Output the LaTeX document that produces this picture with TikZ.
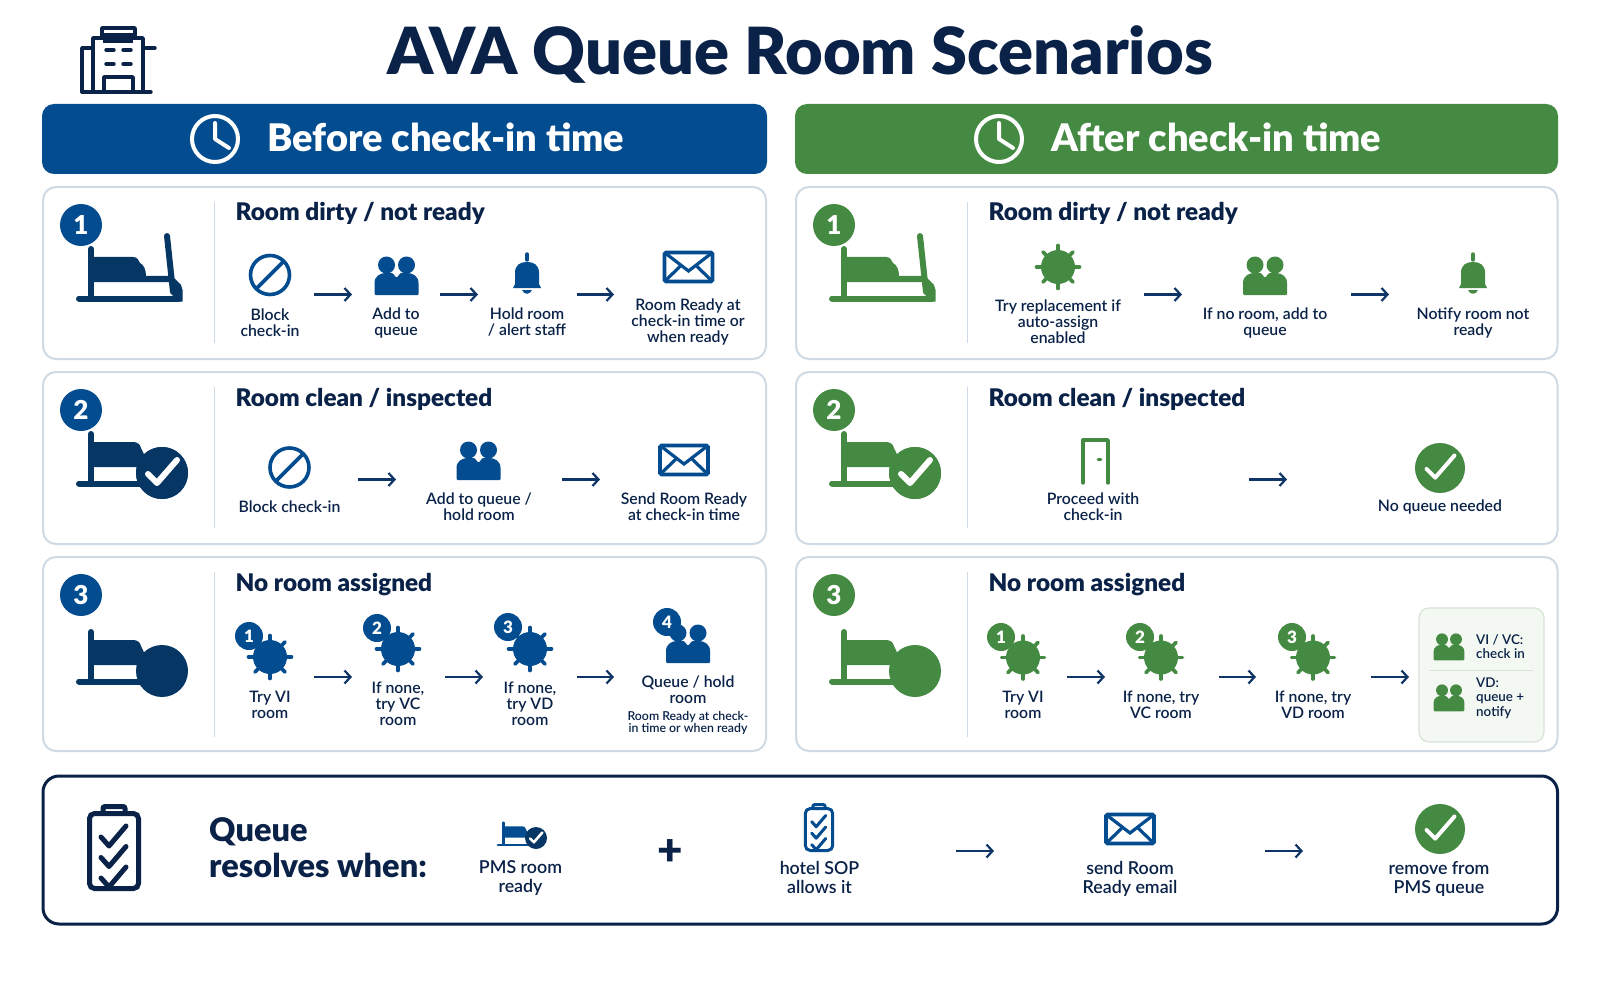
\documentclass[tikz,border=0pt]{standalone}
\usepackage{fontspec}
\usepackage{xcolor}
\usepackage{tikz}
\usetikzlibrary{arrows.meta}
\setmainfont{Lato}[UprightFont=* Semibold, BoldFont=* Black]

\definecolor{navyink}{HTML}{0A2248}
\definecolor{arrowink}{HTML}{0F3566}
\definecolor{headblue}{HTML}{034C90}
\definecolor{bedblue}{HTML}{063764}
\definecolor{headgreen}{HTML}{458A42}
\definecolor{panelline}{HTML}{CFDAE4}
\definecolor{softgreen}{HTML}{F4F8F2}
\definecolor{softline}{HTML}{D6E3D5}

\tikzset{
	panel/.style={draw=panelline, line width=2pt, fill=white, rounded corners=13pt},
	divider/.style={draw=panelline, line width=1.2pt},
	flow/.style={draw=arrowink, line width=2.4pt, -{Straight Barb[length=6pt,width=13pt,line width=2.2pt]}},
	headtext/.style={anchor=base west, inner sep=0pt, text=white, font=\fontsize{38}{38}\selectfont\bfseries},
	rowtitle/.style={anchor=base west, inner sep=0pt, text=navyink, font=\fontsize{24.3}{24.3}\selectfont\bfseries},
	steplabel/.style={align=center, inner sep=0pt, text=navyink, font=\fontsize{15.8}{16}\selectfont},
	biglabel/.style={steplabel, font=\fontsize{17.8}{19}\selectfont},
	boxlabel/.style={steplabel, anchor=west, align=left, font=\fontsize{13.4}{14.5}\selectfont},
	bigbadge/.style={circle, fill=#1, text=white, minimum size=42pt, inner sep=0pt, font=\fontsize{26}{26}\selectfont\bfseries},
	tinybadge/.style={circle, fill=#1, text=white, minimum size=28pt, inner sep=0pt, font=\fontsize{17}{17}\selectfont\bfseries}
}

% bed with its foot board, drawn where the first row has it
\newcommand{\bedfull}[3]{
	\begin{scope}[shift={(#1,#2)}]
		\draw[#3, line width=6pt, line cap=round] (91,249) -- (91,298);
		\draw[#3, line width=6pt, line cap=round] (79,298.5) -- (179,298.5);
		\fill[#3] (93,257) -- (133,257) .. controls (137,257) and (139,260) .. (140,263) .. controls (144,265) and (146,270) .. (146,276) -- (172,276) -- (172,282) -- (93,282) -- cycle;
		\draw[#3, line width=6pt, line cap=round] (167,236) -- (173,292);
		\fill[#3] (174,278) -- (181,285) -- (182.5,290) -- (182.5,301.5) -- (172,301.5) -- cycle;
	\end{scope}
}
% bed cut off by a disc
\newcommand{\bedshort}[3]{
	\begin{scope}[shift={(#1,#2)}]
		\draw[#3, line width=6pt, line cap=round] (91,249) -- (91,298);
		\draw[#3, line width=6pt, line cap=round] (79,298.5) -- (150,298.5);
		\fill[#3] (93,257) -- (133,257) .. controls (137,257) and (140,259) .. (141,263) -- (150,282) -- (93,282) -- cycle;
		\fill[#3] (162,288) circle (26);
	\end{scope}
}
% tick on a disc: x, y, radius, colour, line width
\newcommand{\tickdisc}[5]{
	\fill[#4] (#1,#2) circle (#3);
	\begin{scope}[shift={(#1,#2)}, scale=#3/26]
		\draw[white, line width=#5pt, line cap=round, line join=round] (-14,1) -- (-5,10) -- (15,-13);
	\end{scope}
}
\newcommand{\blockicon}[3]{
	\begin{scope}[shift={(#1,#2)}]
		\draw[#3, line width=3.6pt] (0,0) circle (19.5);
		\draw[#3, line width=3.6pt] (-14,14) -- (14,-14);
	\end{scope}
}
\newcommand{\peopleicon}[4]{
	\begin{scope}[shift={(#1,#2)}, scale=#4]
		\fill[#3] (-10,-11) circle (8.5);
		\fill[#3] (10,-11) circle (8.5);
		\fill[#3, rounded corners=1pt] (-22,19) -- (-22,8) .. controls (-22,0) and (-16,-3) .. (-10,-3) -- (-4,-3) -- (0,2) -- (4,-3) -- (10,-3) .. controls (16,-3) and (22,0) .. (22,8) -- (22,19) -- cycle;
	\end{scope}
}
\newcommand{\bellicon}[3]{
	\begin{scope}[shift={(#1,#2)}]
		\draw[#3, line width=3.4pt, line cap=round] (0,-20) -- (0,-14);
		\fill[#3] (-14,14) -- (-12,10) -- (-12,-1) .. controls (-12,-9) and (-7,-12) .. (0,-12) .. controls (7,-12) and (12,-9) .. (12,-1) -- (12,10) -- (14,14) -- cycle;
		\fill[#3] (-5,16) .. controls (-3,21) and (3,21) .. (5,16) -- cycle;
	\end{scope}
}
\newcommand{\mailicon}[3]{
	\begin{scope}[shift={(#1,#2)}]
		\draw[#3, line width=3.6pt, rounded corners=1.5pt] (-24,-14.5) rectangle (24,14.5);
		\draw[#3, line width=3.2pt] (-24,-14.5) -- (0,4) -- (24,-14.5);
		\draw[#3, line width=3.2pt] (-24,14.5) -- (-7,-2);
		\draw[#3, line width=3.2pt] (24,14.5) -- (7,-2);
	\end{scope}
}
\newcommand{\gearicon}[3]{
	\begin{scope}[shift={(#1,#2)}]
		\foreach \a in {0,45,...,315}
			\draw[#3, line width=3.6pt, line cap=round] (\a:14) -- (\a:21.5);
		\fill[#3] (0,0) circle (17);
	\end{scope}
}
\newcommand{\clockicon}[2]{
	\begin{scope}[shift={(#1,#2)}]
		\draw[white, line width=4pt] (0,0) circle (23);
		\draw[white, line width=4pt, line cap=round, line join=round] (0,-16) -- (0,0) -- (14,9);
	\end{scope}
}
% clipboard: x, y, scale, colour, line width
\newcommand{\clipicon}[5]{
	\begin{scope}[shift={(#1,#2)}, scale=#3]
		\draw[#4, line width=#5pt, rounded corners=5pt] (-24.5,-37.5) rectangle (24.5,37.5);
		\draw[#4, line width=#5pt, rounded corners=2pt] (-11,-37.5) -- (-11,-44.5) -- (11,-44.5) -- (11,-37.5);
		\foreach \d in {0,20.5,41}
			\draw[#4, line width=#5pt, line cap=round, line join=round] (-13,-14+\d) -- (-5,-5+\d) -- (12,-25+\d);
	\end{scope}
}
% arrow between two named ends
\newcommand{\flowarrow}[4]{
	\coordinate (#1s) at (#2,#4);
	\coordinate (#1e) at (#3,#4);
	\draw[flow] (#1s) -- (#1e);
}

\begin{document}
\begin{tikzpicture}[x=1pt, y=-1pt]
	\useasboundingbox (0,0) rectangle (1600,1000);
	\fill[white] (0,0) rectangle (1600,1000);

	% hotel icon
	\begin{scope}[navyink, line width=3.4pt, line cap=round, line join=round]
		\draw (93,92) -- (93,38) -- (143,38) -- (143,92);
		\draw (93,48) -- (82,48) -- (82,92);
		\draw (82,92) -- (151,92);
		\draw (143,48) -- (155,48);
		\draw (102,37) -- (102,28) -- (135,28) -- (135,37);
		\draw (104,92) -- (104,77) -- (133,77) -- (133,92);
		\fill (103,33.5) rectangle (133,43);
		\draw (106,50) -- (114,50);
		\draw (123,50) -- (131,50);
		\draw (106,64) -- (114,64);
		\draw (123,64) -- (131,64);
	\end{scope}
	\node[inner sep=0pt, text=navyink, font=\fontsize{65}{65}\selectfont\bfseries] (maintitle) at (800,55) {AVA Queue Room Scenarios};

	% column heads
	\fill[headblue, rounded corners=12pt] (42,104) rectangle (767,174);
	\fill[headgreen, rounded corners=12pt] (795,104) rectangle (1558,174);
	\clockicon{215}{139}
	\clockicon{999}{139}
	\node[headtext] (headbefore) at (267,152) {Before check-in time};
	\node[headtext] (headafter) at (1051,152) {After check-in time};

	% panels
	\draw[panel] (43,187) rectangle (766,359);
	\draw[panel] (43,372) rectangle (766,544);
	\draw[panel] (43,557) rectangle (766,751);
	\draw[panel] (796,187) rectangle (1557.5,359);
	\draw[panel] (796,372) rectangle (1557.5,544);
	\draw[panel] (796,557) rectangle (1557.5,751);
	\draw[divider] (214.5,202) -- (214.5,343);
	\draw[divider] (214.5,387) -- (214.5,528);
	\draw[divider] (214.5,572) -- (214.5,737);
	\draw[divider] (967.5,202) -- (967.5,343);
	\draw[divider] (967.5,387) -- (967.5,528);
	\draw[divider] (967.5,572) -- (967.5,737);

	% beds and numbers, before
	\bedfull{0}{0}{bedblue}
	\bedshort{0}{185}{bedblue}
	\bedshort{0}{383}{bedblue}
	\tickdisc{162}{473}{26}{bedblue}{6}
	\node[bigbadge=headblue] (numB1) at (81,225) {1};
	\node[bigbadge=headblue] (numB2) at (81,410) {2};
	\node[bigbadge=headblue] (numB3) at (81,595) {3};

	% beds and numbers, after
	\bedfull{753}{0}{headgreen}
	\bedshort{753}{185}{headgreen}
	\bedshort{753}{383}{headgreen}
	\tickdisc{915}{473}{26}{headgreen}{6}
	\node[bigbadge=headgreen] (numA1) at (834,225) {1};
	\node[bigbadge=headgreen] (numA2) at (834,410) {2};
	\node[bigbadge=headgreen] (numA3) at (834,595) {3};

	% before, row 1
	\node[rowtitle] (titleB1) at (235.5,221) {Room dirty / not ready};
	\blockicon{270}{275}{headblue}
	\peopleicon{396.5}{276}{headblue}{1}
	\bellicon{527}{274}{headblue}
	\mailicon{688.5}{267}{headblue}
	\node[steplabel] (stepB1a) at (270,322.5) {Block\\check-in};
	\node[steplabel] (stepB1b) at (396,322.5) {Add to\\queue};
	\node[steplabel] (stepB1c) at (527,322.5) {Hold room\\/ alert staff};
	\node[steplabel] (stepB1d) at (688,322) {Room Ready at\\check-in time or\\when ready};
	\flowarrow{arrB1a}{314}{352}{294.5}
	\flowarrow{arrB1b}{440}{478}{294.5}
	\flowarrow{arrB1c}{577}{614}{294.5}

	% before, row 2
	\node[rowtitle] (titleB2) at (235.5,406) {Room clean / inspected};
	\blockicon{289.5}{467.5}{headblue}
	\peopleicon{478.5}{461}{headblue}{1}
	\mailicon{684}{460}{headblue}
	\node[steplabel] (stepB2a) at (289.5,507) {Block check-in};
	\node[steplabel] (stepB2b) at (479,506.5) {Add to queue /\\hold room};
	\node[steplabel] (stepB2c) at (684,506.5) {Send Room Ready\\at check-in time};
	\flowarrow{arrB2a}{358}{396}{479.5}
	\flowarrow{arrB2b}{562}{600}{479.5}

	% before, row 3
	\node[rowtitle] (titleB3) at (235.5,591) {No room assigned};
	\gearicon{270}{657}{headblue}
	\gearicon{398}{649}{headblue}
	\gearicon{530}{649}{headblue}
	\peopleicon{688}{644}{headblue}{1}
	\node[tinybadge=headblue] (tryB1) at (249,636) {1};
	\node[tinybadge=headblue] (tryB2) at (377,628) {2};
	\node[tinybadge=headblue] (tryB3) at (508,627) {3};
	\node[tinybadge=headblue] (tryB4) at (667,622) {4};
	\node[steplabel] (stepB3a) at (270,704.5) {Try VI\\room};
	\node[steplabel] (stepB3b) at (398,703.5) {If none,\\try VC\\room};
	\node[steplabel] (stepB3c) at (530,703.5) {If none,\\try VD\\room};
	\node[steplabel] (stepB3d) at (688,690) {Queue / hold\\room};
	\node[steplabel, font=\fontsize{12.3}{12}\selectfont] (noteB3d) at (688,722.5) {Room Ready at check-\\in time or when ready};
	\flowarrow{arrB3a}{314}{352}{677}
	\flowarrow{arrB3b}{445}{483}{677}
	\flowarrow{arrB3c}{577}{614}{677}

	% after, row 1
	\node[rowtitle] (titleA1) at (988.5,221) {Room dirty / not ready};
	\gearicon{1058}{267}{headgreen}
	\peopleicon{1265}{276}{headgreen}{1}
	\bellicon{1473}{274}{headgreen}
	\node[steplabel] (stepA1a) at (1058,322) {Try replacement if\\auto-assign\\enabled};
	\node[steplabel] (stepA1b) at (1265,322.5) {If no room, add to\\queue};
	\node[steplabel] (stepA1c) at (1473,322.5) {Notify room not\\ready};
	\flowarrow{arrA1a}{1144}{1182}{294.5}
	\flowarrow{arrA1b}{1351}{1389}{294.5}

	% after, row 2
	\node[rowtitle] (titleA2) at (988.5,406) {Room clean / inspected};
	\draw[headgreen, line width=3.4pt, line cap=round, line join=round] (1083,483) -- (1083,440) -- (1108,440) -- (1108,483);
	\draw[headgreen, line width=2.6pt, line cap=round] (1098,459.5) -- (1101,459.5);
	\tickdisc{1440}{468}{25}{headgreen}{4}
	\node[steplabel] (stepA2a) at (1093,506.5) {Proceed with\\check-in};
	\node[steplabel] (stepA2b) at (1440,507) {No queue needed};
	\flowarrow{arrA2a}{1249}{1287}{479.5}

	% after, row 3
	\node[rowtitle] (titleA3) at (988.5,591) {No room assigned};
	\gearicon{1023}{657.5}{headgreen}
	\gearicon{1161}{657.5}{headgreen}
	\gearicon{1313}{657.5}{headgreen}
	\node[tinybadge=headgreen] (tryA1) at (1001,637) {1};
	\node[tinybadge=headgreen] (tryA2) at (1140,637) {2};
	\node[tinybadge=headgreen] (tryA3) at (1292,637) {3};
	\node[steplabel] (stepA3a) at (1023,704.5) {Try VI\\room};
	\node[steplabel] (stepA3b) at (1161,704.5) {If none, try\\VC room};
	\node[steplabel] (stepA3c) at (1313,704.5) {If none, try\\VD room};
	\flowarrow{arrA3a}{1067}{1105}{677}
	\flowarrow{arrA3b}{1219}{1256}{677}
	\flowarrow{arrA3c}{1371}{1409}{677}

	% outcome box
	\draw[draw=softline, line width=1.2pt, fill=softgreen, rounded corners=10pt] (1419,608) rectangle (1544,742);
	\draw[softline, line width=1.2pt] (1429,670.5) -- (1533,670.5);
	\peopleicon{1449}{647}{headgreen}{0.7}
	\peopleicon{1449}{698}{headgreen}{0.7}
	\node[boxlabel] (outvi) at (1476,646.5) {VI / VC:\\check in};
	\node[boxlabel] (outvd) at (1476,698) {VD:\\queue +\\notify};

	% queue resolves
	\draw[navyink, line width=3pt, rounded corners=16pt] (43,776) rectangle (1557.5,924);
	\clipicon{114}{851}{1}{navyink}{5}
	\node[anchor=west, align=left, inner sep=0pt, text=navyink, font=\fontsize{32.5}{36}\selectfont\bfseries] (queuehead) at (209,848) {Queue\\resolves when:};
	\begin{scope}[shift={(520,833)}, scale=0.45, shift={(-128,-272)}]
		\draw[headblue, line width=2.6pt, line cap=round] (91,249) -- (91,298);
		\draw[headblue, line width=2.6pt, line cap=round] (79,298.5) -- (150,298.5);
		\fill[headblue] (93,257) -- (133,257) .. controls (137,257) and (140,259) .. (141,263) -- (150,282) -- (93,282) -- cycle;
	\end{scope}
	\tickdisc{536}{838}{11}{bedblue}{2.6}
	\node[biglabel] (stepQa) at (520.5,878.5) {PMS room\\ready};
	\node[inner sep=0pt, text=navyink, font=\fontsize{44}{44}\selectfont\bfseries] (plusmark) at (670,853) {+};
	\clipicon{819}{829.5}{0.56}{headblue}{3}
	\node[biglabel] (stepQb) at (819.5,877.5) {hotel SOP\\allows it};
	\mailicon{1130}{829}{headblue}
	\node[biglabel] (stepQc) at (1130,878.5) {send Room\\Ready email};
	\tickdisc{1440}{829}{25}{headgreen}{4}
	\node[biglabel] (stepQd) at (1439,878.5) {remove from\\PMS queue};
	\flowarrow{arrQa}{956}{994}{851}
	\flowarrow{arrQb}{1265}{1303}{851}
\end{tikzpicture}
\end{document}
